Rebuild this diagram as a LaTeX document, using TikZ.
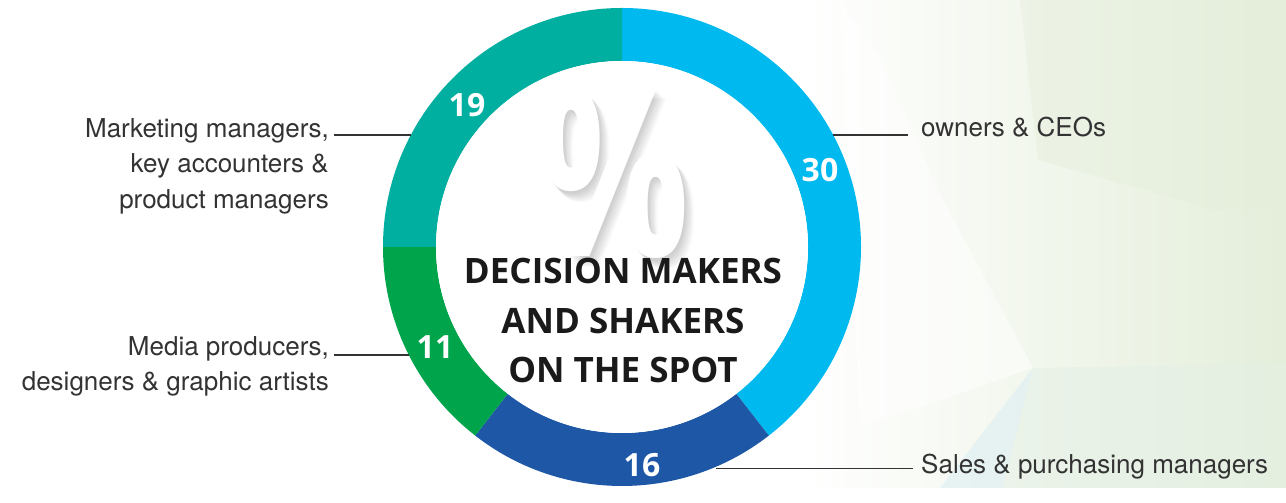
\documentclass[tikz,border=0pt]{standalone}
\usepackage{fontspec}
\setmainfont{TeX Gyre Heros}
\newfontfamily\headfont{Open Sans}
\usepackage{xcolor}

\definecolor{ceoblue}{HTML}{00B9EF}
\definecolor{salesblue}{HTML}{1D57A6}
\definecolor{mediagreen}{HTML}{00A44B}
\definecolor{mktteal}{HTML}{00AFA0}
\definecolor{labelgray}{HTML}{333333}
\definecolor{headblack}{HTML}{1A1A1A}
\definecolor{bggreen}{HTML}{E4EEDA}
\definecolor{bgmint}{HTML}{E4F0E6}
\definecolor{bgblue}{HTML}{DDEEF3}

\begin{document}
\begin{tikzpicture}[x=1pt, y=1pt,
	lbl/.style={text=labelgray, font=\fontsize{26}{35.5}\selectfont, inner sep=0pt},
	pct/.style={text=white, font=\headfont\bfseries\fontsize{32}{32}\selectfont, inner sep=0pt},
	lead/.style={draw=labelgray, line width=1.2pt},
	bigpct/.style={font=\headfont\bfseries\fontsize{235}{235}\selectfont, xscale=.72, inner sep=0pt}]
	% background
	\fill[white] (0,0) rectangle (1286,488);
	\fill[left color=white, right color=bggreen] (800,0) rectangle (1286,488);
	\fill[bgmint, opacity=.5] (1033,120) -- (1286,125) -- (1286,0) -- (1002,0) -- cycle;
	\fill[bgblue, opacity=.6] (940,0) -- (1002,0) -- (1033,120) -- cycle;
	\fill[bggreen, opacity=.4] (1020,488) -- (1286,488) -- (1286,278) -- (1215,278) -- (1038,328) -- cycle;
	\fill[white, opacity=.5] (883,425) -- (942,290) -- (1033,120) -- (860,60) -- (840,488) -- cycle;
	% ring
	\coordinate (C) at (622,241);
	\fill[ceoblue] (C) ++(90:239) arc[start angle=90, end angle=-52.1, radius=239] -- ++(-52.1:-53) arc[start angle=-52.1, end angle=90, radius=186] -- cycle;
	\fill[salesblue] (C) ++(-52.1:239) arc[start angle=-52.1, end angle=-127.9, radius=239] -- ++(-127.9:-53) arc[start angle=-127.9, end angle=-52.1, radius=186] -- cycle;
	\fill[mediagreen] (C) ++(-127.9:239) arc[start angle=-127.9, end angle=-180, radius=239] -- ++(-180:-53) arc[start angle=-180, end angle=-127.9, radius=186] -- cycle;
	\fill[mktteal] (C) ++(180:239) arc[start angle=180, end angle=90, radius=239] -- ++(90:-53) arc[start angle=90, end angle=180, radius=186] -- cycle;
	\fill[white] (C) circle[radius=186];
	% percent sign with soft shadow
	\foreach \d in {1,...,12}
		\node[bigpct, text=black, opacity=.016] at (614+\d*.8, 314-\d*.8) {\%};
	\node[bigpct, text=white] (pctsign) at (614,316) {\%};
	\node[text=headblack, font=\headfont\bfseries\fontsize{35}{49.5}\selectfont, align=center, anchor=north, inner sep=0pt] (title) at (623,230) {DECISION MAKERS\\AND SHAKERS\\ON THE SPOT};
	% shares
	\node[pct] (n30) at (820,318) {30};
	\node[pct] (n16) at (642,23) {16};
	\node[pct] (n11) at (435,141) {11};
	\node[pct] (n19) at (467,383) {19};
	% labels
	\node[lbl, anchor=base west] (ceo) at (921,351.3) {owners \& CEOs};
	\node[lbl, anchor=base west] (sales) at (921,14.7) {Sales \& purchasing managers};
	\node[lbl, align=right, anchor=north east] (mkt) at (329,370) {Marketing managers,\\key accounters \&\\product managers};
	\node[lbl, align=right, anchor=north east] (media) at (329,151.7) {Media producers,\\designers \& graphic artists};
	\coordinate (ceoring) at (833,353);
	\coordinate (ceoend) at (908,353);
	\coordinate (salesring) at (716,19.7);
	\coordinate (salesend) at (913,19.7);
	\coordinate (mktring) at (411,353);
	\coordinate (mktend) at (334,353);
	\coordinate (mediaring) at (409,133);
	\coordinate (mediaend) at (334,133);
	\draw[lead] (ceoring) -- (ceoend);
	\draw[lead] (salesring) -- (salesend);
	\draw[lead] (mktend) -- (mktring);
	\draw[lead] (mediaend) -- (mediaring);
\end{tikzpicture}
\end{document}
